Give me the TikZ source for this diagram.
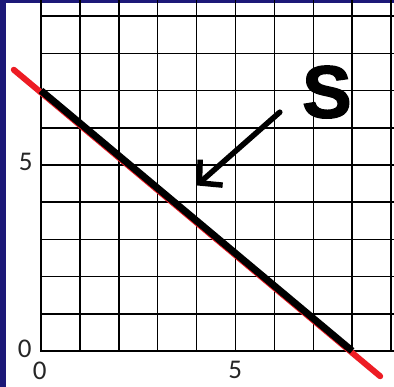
\documentclass[tikz,border=0pt]{standalone}
\usepackage{fontspec}
\setmainfont{Carlito}
\newfontfamily\heavysans{Liberation Sans Bold}[BoldFont={Liberation Sans Bold}, BoldFeatures={FakeBold=2}]
\usetikzlibrary{arrows.meta}

\begin{document}
\begin{tikzpicture}[x=38.9pt, y=37.2pt, >=Stealth,
			gridline/.style={black, line width=1.5pt, line cap=rect},
			axislabel/.style={font=\fontsize{27}{28}\selectfont, text=black!85, inner sep=0pt},
			redline/.style={draw=linered, line width=6pt, line cap=round},
			blackline/.style={draw=black, line width=7pt},
			pointer/.style={-{Straight Barb[length=16pt, width=34pt]}, line width=5.5pt, line cap=round},
			slabel/.style={font=\heavysans\bfseries\fontsize{74}{74}\selectfont, inner sep=0pt}
			]
			
			% Define colors
			\definecolor{framenavy}{RGB}{28,24,120}
			\definecolor{linered}{RGB}{237,28,36}
			
			% 0. Canvas and frame
			\useasboundingbox (-1.054,-0.968) rectangle (9.075,9.435);
			\fill[white] (-1.054,-0.968) rectangle (9.075,9.435);
			\fill[framenavy] (-1.054,-0.968) rectangle (-0.9,9.435);
			\fill[framenavy] (-1.054,9.355) rectangle (9.075,9.435);
			
			% 1. Grid
			\foreach \i in {0,...,9} {
				\draw[gridline] (\i,0) -- (\i,9.435);
				\draw[gridline] (0,\i) -- (9.075,\i);
			}
			
			% 2. Axis labels
			\node[axislabel] (ylabfive) at (-0.39,5.08) {5};
			\node[axislabel] (ylabzero) at (-0.42,0.05) {0};
			\node[axislabel] (xlabzero) at (-0.03,-0.53) {0};
			\node[axislabel] (xlabfive) at (4.99,-0.52) {5};
			
			% 3. The line S
			\coordinate (redstart) at (-0.7,7.56);
			\coordinate (redend) at (8.72,-0.68);
			\draw[redline] (redstart) -- (redend);
			\coordinate (yint) at (0,7);
			\coordinate (xint) at (8,0);
			\draw[blackline] (yint) -- (xint);
			
			% 4. Label S with its arrow
			\node[slabel] (S) at (7.35,6.96) {S};
			\coordinate (arrowtail) at (6.14,6.42);
			\coordinate (arrowtip) at (4.0,4.45);
			\draw[pointer] (arrowtail) -- (arrowtip);
			
		\end{tikzpicture}
\end{document}
